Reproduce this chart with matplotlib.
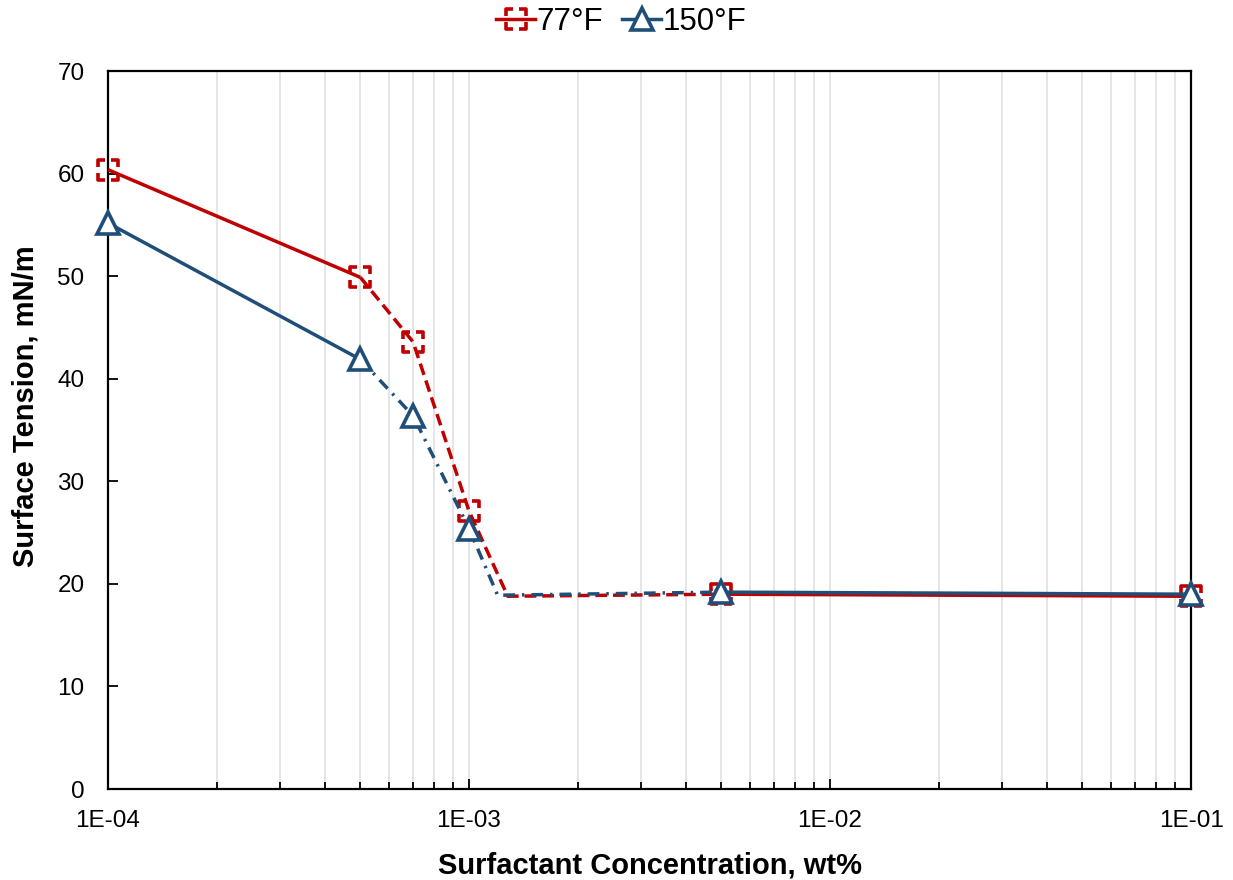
import matplotlib
matplotlib.use("Agg")
import matplotlib.pyplot as plt
from matplotlib.path import Path
from matplotlib.lines import Line2D
from matplotlib.ticker import LogLocator, FuncFormatter, MultipleLocator
import numpy as np

plt.rcParams['font.family'] = ['Liberation Sans', 'DejaVu Sans']

# Surfactant concentration (wt%) and surface tension (mN/m)
conc_77 = [1e-4, 5e-4, 7e-4, 1e-3, 1.28e-3, 5e-3, 1e-1]
tension_77 = [60.4, 49.9, 43.6, 27.1, 18.8, 19.0, 18.8]
conc_150 = [1e-4, 5e-4, 7e-4, 1e-3, 1.2e-3, 5e-3, 1e-1]
tension_150 = [55.2, 41.9, 36.4, 25.4, 18.9, 19.2, 19.0]
# measured points (the knee at ~1.2E-03 is a fitted break, no marker)
measured = [0, 1, 2, 3, 5, 6]

labels = ['77°F', '150°F']
red = '#C00000'
blue = '#1F4E79'

# open square drawn with gaps in the middle of each side
g = 0.3
verts = [(-1, g), (-1, 1), (-g, 1),
         (g, 1), (1, 1), (1, g),
         (1, -g), (1, -1), (g, -1),
         (-g, -1), (-1, -1), (-1, -g)]
codes = [Path.MOVETO, Path.LINETO, Path.LINETO] * 4
dashed_square = Path(verts, codes)

fig = plt.figure(figsize=(12.33, 8.8), dpi=100)
ax = fig.add_axes([0.0876, 0.1034, 0.8784, 0.8156])
ax.set_xscale('log')

lw = 2.5
mew = 2.6
sq_ms = 14.5
tri_ms = 15.5
red_dash = (3.4, 1.7)
blue_dashdot = (3.4, 2.0, 0.7, 2.0)


def draw_series(x, y, color, dashes, marker, ms, z):
    x = np.asarray(x)
    y = np.asarray(y)
    ax.plot(x[0:2], y[0:2], color=color, lw=lw, solid_capstyle='butt', zorder=z)
    ax.plot(x[1:6], y[1:6], color=color, lw=lw, dashes=dashes,
            dash_capstyle='butt', zorder=z)
    ax.plot(x[5:7], y[5:7], color=color, lw=lw, solid_capstyle='butt', zorder=z)
    ax.plot(x[measured], y[measured], ls='none', marker=marker, ms=ms,
            mfc='white' if marker == '^' else 'none', mec=color, mew=mew,
            zorder=z + 1, clip_on=False)


draw_series(conc_77, tension_77, red, red_dash, dashed_square, sq_ms, 3)
draw_series(conc_150, tension_150, blue, blue_dashdot, '^', tri_ms, 5)

ax.set_xlim(1e-4, 1e-1)
ax.set_ylim(0, 70)
ax.yaxis.set_major_locator(MultipleLocator(10))
ax.xaxis.set_major_locator(LogLocator(base=10, numticks=10))
ax.xaxis.set_minor_locator(LogLocator(base=10, subs=np.arange(2, 10), numticks=30))
ax.xaxis.set_major_formatter(FuncFormatter(lambda v, p: f"{v:.0E}"))
ax.xaxis.set_minor_formatter(FuncFormatter(lambda v, p: ""))

ax.grid(True, axis='x', which='both', color='#E3E3E3', lw=1.3, zorder=0)
ax.set_axisbelow(True)
for s in ax.spines.values():
    s.set_linewidth(1.6)
    s.set_color('black')

ax.tick_params(axis='both', which='major', direction='in', length=7, width=1.3,
               labelsize=17.5)
ax.tick_params(axis='x', which='minor', direction='in', length=5, width=1.3)
ax.tick_params(axis='x', which='major', pad=15)
ax.tick_params(axis='y', which='major', pad=17)
ax.tick_params(top=False, right=False, which='both')

ax.set_xlabel('Surfactant Concentration, wt%', fontsize=21, fontweight='bold',
              labelpad=14)
ax.set_ylabel('Surface Tension, mN/m', fontsize=21, fontweight='bold')
ax.yaxis.set_label_coords(-0.0635, 0.533)

handles = [
    Line2D([], [], color=red, lw=lw, marker=dashed_square, ms=sq_ms, mfc='none',
           mec=red, mew=mew),
    Line2D([], [], color=blue, lw=lw, marker='^', ms=tri_ms, mfc='white',
           mec=blue, mew=mew),
]
fig.legend(handles, labels, loc='upper center', bbox_to_anchor=(0.504, 1.024),
           ncol=2, frameon=False, fontsize=22.5, handlelength=1.25,
           handletextpad=0.05, columnspacing=0.6)

fig.savefig('out.png', dpi=100)
